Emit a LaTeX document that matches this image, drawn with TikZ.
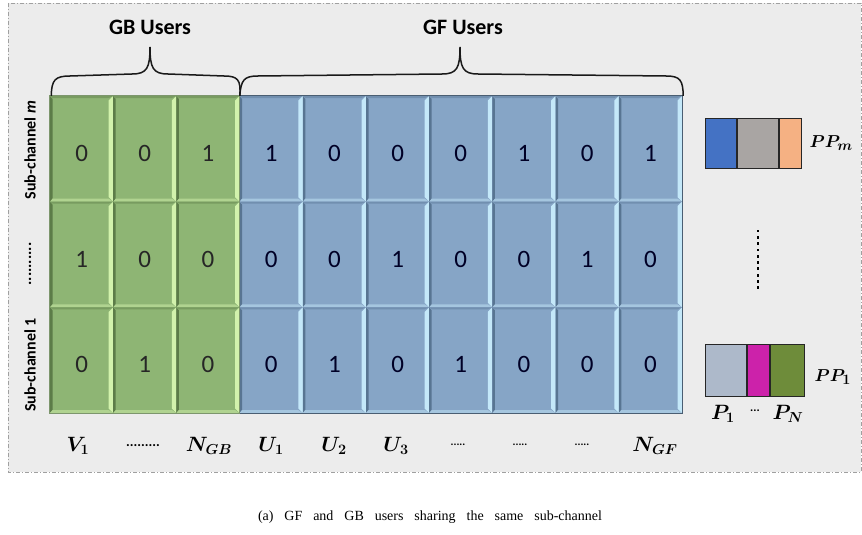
\documentclass[tikz,border=0pt]{standalone}
\usepackage{amsmath}
\usepackage[no-math]{fontspec}
\setmainfont{Carlito}
\newfontfamily\capfont{Liberation Serif}
\usetikzlibrary{calc}

\definecolor{bgc}{HTML}{ECECEC}
\definecolor{framec}{HTML}{A0A0A0}
\definecolor{gbfill}{HTML}{8EB574}
\definecolor{gblight}{HTML}{D2F2AC}
\definecolor{gbdark}{HTML}{5C7C48}
\definecolor{gffill}{HTML}{86A5C6}
\definecolor{gflight}{HTML}{C4E8F9}
\definecolor{gfdark}{HTML}{587592}
\definecolor{gridline}{HTML}{4A5E72}
\definecolor{ppblue}{HTML}{4472C4}
\definecolor{ppgray}{HTML}{A9A5A3}
\definecolor{pporange}{HTML}{F5B183}
\definecolor{ppsteel}{HTML}{ADB9CA}
\definecolor{ppmagenta}{HTML}{CC22AA}
\definecolor{ppolive}{HTML}{6E8C3A}

\tikzset{
  % raised cell with bevelled edges: #1 face, #2 light edge, #3 dark edge
  bevel/.style n args={3}{
    fill=#1,
    path picture={
      \path (path picture bounding box.north west) coordinate (pnw)
            (path picture bounding box.north east) coordinate (pne)
            (path picture bounding box.south west) coordinate (psw)
            (path picture bounding box.south east) coordinate (pse);
      \fill[#3] (pnw) -- (psw) -- ([shift={(2.5pt,3pt)}]psw) -- ([shift={(2.5pt,-3pt)}]pnw) -- cycle;
      \fill[#2] (pne) -- (pse) -- ([shift={(-4.5pt,4.5pt)}]pse) -- ([shift={(-4.5pt,-4.5pt)}]pne) -- cycle;
      \fill[#3!45!#1] (pnw) -- (pne) -- ([shift={(-4.5pt,-2pt)}]pne) -- ([shift={(2.5pt,-2pt)}]pnw) -- cycle;
      \fill[#2!50!#1] (psw) -- (pse) -- ([shift={(-4.5pt,3pt)}]pse) -- ([shift={(2.5pt,3pt)}]psw) -- cycle;
    }},
  cellbase/.style={minimum width=63.2pt, minimum height=105.67pt, inner sep=0pt,
    text height=25pt, text depth=0pt, font=\fontsize{25}{29}\selectfont},
  gbcell/.style={cellbase, bevel={gbfill}{gblight}{gbdark}, text=black!85},
  gfcell/.style={cellbase, bevel={gffill}{gflight}{gfdark}, text=black!85!blue},
  cellkind/.code={\ifnum#1<4\relax\pgfkeysalso{/tikz/gbcell}\else\pgfkeysalso{/tikz/gfcell}\fi},
  header/.style={font=\bfseries\fontsize{22}{26}\selectfont},
  sublabel/.style={rotate=90, font=\bfseries\fontsize{16}{19}\selectfont},
  userlabel/.style={font=\fontsize{20}{24}\selectfont\boldmath},
  dotlabel/.style={font=\bfseries\fontsize{14}{16}\selectfont},
  brace/.style={line width=1.5pt, black!90},
  ppbox/.style={draw=black!85, line width=0.8pt, inner sep=0pt, anchor=north west},
  pplabel/.style={font=\fontsize{19}{23}\selectfont\boldmath, anchor=west},
}

\begin{document}
\begin{tikzpicture}[x=1pt, y=-1pt]
\useasboundingbox (0,0) rectangle (862,535);
\fill[white] (0,0) rectangle (862,535);
% dashed frame around the figure
\draw[framec, fill=bgc, line width=0.7pt, dash pattern=on 4pt off 2pt on 1pt off 2pt]
  (8,3) rectangle (861,472);

% sub-channel x user allocation grid
\foreach \r/\vals in {1/{0,0,1,1,0,0,0,1,0,1},
                      2/{1,0,0,0,0,1,0,0,1,0},
                      3/{0,1,0,0,1,0,1,0,0,0}} {
  \foreach \v [count=\c] in \vals {
    \pgfmathsetmacro\xc{50+63.2*(\c-0.5)}
    \pgfmathsetmacro\yc{96+105.67*(\r-0.5)}
    \node[cellkind=\c] (cell-\r-\c) at (\xc,\yc) {\v};
  }
}
\draw[gridline, line width=0.8pt] (cell-1-1.north west) rectangle (cell-3-10.south east);
\draw[gbdark!80, line width=0.8pt] (cell-1-1.north west) rectangle (cell-3-3.south east);

% braces over the user groups
\coordinate (gbL) at (cell-1-1.north west);
\coordinate (gbR) at (cell-1-3.north east);
\coordinate (gfR) at (cell-1-10.north east);
\draw[brace] ([xshift=1.5pt]gbL) .. controls (51.5,80) and (55,76) .. (70,76)
  -- (132,74) .. controls (147,74) and (150,68) .. (150,47)
  .. controls (150,68) and (153,74) .. (168,74)
  -- (224,76) .. controls (238,76) and (241,80) .. (gbR);
\draw[brace] (gbR) .. controls (241,80) and (244,76) .. (258,76)
  -- (442,74) .. controls (457,74) and (460,68) .. (460,47)
  .. controls (460,68) and (463,74) .. (478,74)
  -- (666,76) .. controls (680,76) and (683,80) .. ([xshift=1pt]gfR);

\node[header] (gb-users) at (150,27) {GB Users};
\node[header] (gf-users) at (463,27) {GF Users};

% sub-channel labels
\node[sublabel] (sc-m) at (30,150) {Sub-channel \textit{m}};
\node[sublabel] (sc-dots) at (30,264) {..........};
\node[sublabel] (sc-1) at (30,365) {Sub-channel 1};

% user indices
\node[userlabel] (u-v1) at (78,446) {$V_1$};
\node[dotlabel] (u-d0) at (143,446) {.........};
\node[userlabel] (u-ngb) at (209,446) {$N_{GB}$};
\node[userlabel] (u-u1) at (271,446) {$U_1$};
\node[userlabel] (u-u2) at (334,446) {$U_2$};
\node[userlabel] (u-u3) at (396,446) {$U_3$};
\node[dotlabel, font=\bfseries\fontsize{11}{13}\selectfont] (u-d1) at (458,445) {.....};
\node[dotlabel, font=\bfseries\fontsize{11}{13}\selectfont] (u-d2) at (520,445) {.....};
\node[dotlabel, font=\bfseries\fontsize{11}{13}\selectfont] (u-d3) at (582,445) {.....};
\node[userlabel] (u-ngf) at (655,446) {$N_{GF}$};

% power pattern of sub-channel m
\node[ppbox, fill=ppblue, minimum width=31pt, minimum height=50pt] (pm-a) at (705,118) {};
\node[ppbox, fill=ppgray, minimum width=41pt, minimum height=50pt] (pm-b) at (pm-a.north east) {};
\node[ppbox, fill=pporange, minimum width=22pt, minimum height=50pt] (pm-c) at (pm-b.north east) {};
\node[pplabel] (pm-label) at (806,143) {$PP_m$};

% vertical ellipsis between the patterns
\foreach \i in {0,...,9}
  \fill[black] (756.6,229.6+6.3*\i) rectangle (759.4,232.4+6.3*\i);

% power pattern of sub-channel 1
\node[ppbox, fill=ppsteel, minimum width=41pt, minimum height=52pt] (p1-a) at (705,344) {};
\node[ppbox, fill=ppmagenta, minimum width=22pt, minimum height=52pt] (p1-b) at (p1-a.north east) {};
\node[ppbox, fill=ppolive, minimum width=34pt, minimum height=52pt] (p1-c) at (p1-b.north east) {};
\node[pplabel] (p1-label) at (811,377) {$PP_1$};
\node[userlabel] (p1-first) at (723,414) {$P_1$};
\node[dotlabel, font=\bfseries\fontsize{12}{14}\selectfont] (p1-dots) at (755,411) {...};
\node[userlabel] (p1-last) at (788,414) {$P_N$};

% caption
\node[font=\capfont\fontsize{14}{16}\selectfont] (caption) at (430,517)
  {\makebox[344pt][s]{(a) GF and GB users sharing the same sub-channel}};
\end{tikzpicture}
\end{document}
